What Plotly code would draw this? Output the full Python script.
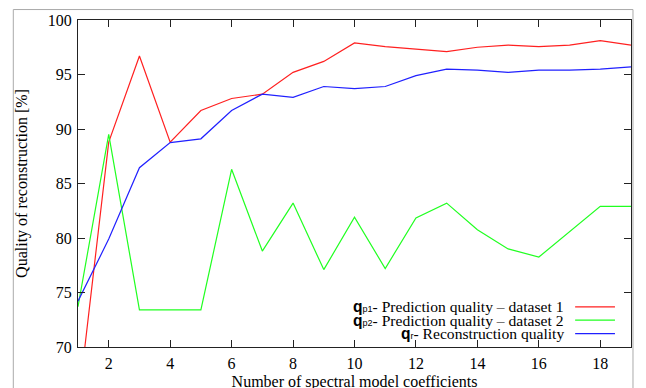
import plotly.graph_objects as go

# ---- data ----
coeffs = list(range(1, 20))
qp1 = [64.6, 88.8, 96.7, 88.8, 91.7, 92.8, 93.2, 95.2, 96.2, 97.9,
       97.55, 97.3, 97.1, 97.5, 97.7, 97.55, 97.7, 98.1, 97.7]
qp2 = [73.7, 89.5, 73.4, 73.4, 73.4, 86.3, 78.8, 83.2, 77.1, 81.9,
       77.2, 81.85, 83.2, 80.75, 79.0, 78.25, 80.6, 82.9, 82.9]
qr = [74.2, 79.9, 86.45, 88.75, 89.1, 91.7, 93.2, 92.9, 93.9, 93.7,
      93.9, 94.9, 95.5, 95.4, 95.2, 95.4, 95.4, 95.5, 95.7]

series_names = ["p1", "p2", "r"]
series_labels = ["- Prediction quality \u2013 dataset 1",
                 "- Prediction quality \u2013 dataset 2",
                 "- Reconstruction quality"]
series_colors = ["#ff2020", "#20ff20", "#2020ff"]
series_values = [qp1, qp2, qr]

SERIF = "Liberation Serif"
SANS_CSS = "Arimo, Arial, Helvetica, DejaVu Sans, sans-serif"

fig = go.Figure()
for vals, col in zip(series_values, series_colors):
    fig.add_trace(go.Scatter(x=coeffs, y=vals, mode="lines",
                             line=dict(color=col, width=1.2),
                             showlegend=False))

# custom legend (text right-aligned, sample line on the right)
leg_y = [0.123, 0.082, 0.041]
for sub, lab, col, yy in zip(series_names, series_labels, series_colors, leg_y):
    txt = (f"<span style='font-family:{SANS_CSS}'><b>q</b></span>"
           f"<span style='font-family:{SANS_CSS};font-size:9px'>{sub}</span>{lab}")
    fig.add_annotation(xref="paper", yref="paper", x=0.8825, y=yy,
                       xanchor="right", yanchor="middle", showarrow=False,
                       text=txt, font=dict(family=SERIF, size=15.6, color="black"))
    fig.add_shape(type="line", xref="paper", yref="paper",
                  x0=0.899, x1=0.971, y0=yy, y1=yy,
                  line=dict(color=col, width=1.2))

# outer light-gray frame
fig.add_shape(type="rect", xref="paper", yref="paper",
              x0=-0.117, x1=1.0036, y0=-0.3, y1=1.032,
              line=dict(color="#aaaaaa", width=1), layer="below")

axis_common = dict(showgrid=False, zeroline=False, showline=True,
                   linecolor="#222222", linewidth=1, mirror="ticks",
                   ticks="inside", ticklen=7, tickcolor="#222222",
                   automargin=False, ticklabelstandoff=2,
                   tickfont=dict(family=SERIF, size=16, color="black"))

fig.update_xaxes(range=[1, 19], tick0=2, dtick=2,
                 title=dict(text="Number of spectral model coefficients",
                            font=dict(family=SERIF, size=16, color="black"),
                            standoff=4),
                 **axis_common)
fig.update_yaxes(range=[70, 100], tick0=70, dtick=5,
                 title=dict(text="Quality of reconstruction [%]",
                            font=dict(family=SERIF, size=16, color="black"),
                            standoff=16),
                 **axis_common)

fig.update_layout(width=646, height=388,
                  margin=dict(l=70, r=23, t=12, b=49, autoexpand=False),
                  paper_bgcolor="white", plot_bgcolor="white")

fig.write_html("out.html")
